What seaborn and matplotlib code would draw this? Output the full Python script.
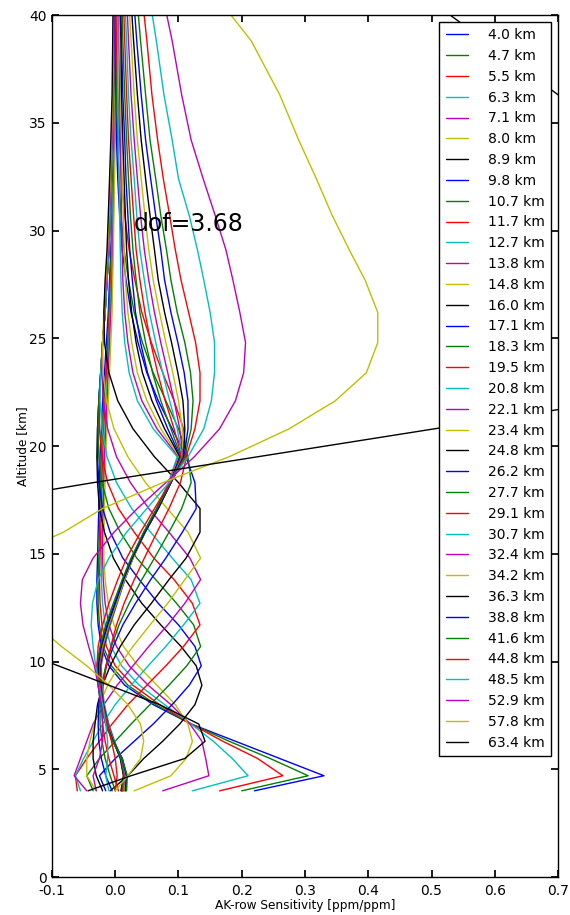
import numpy as np
import pandas as pd
import matplotlib
matplotlib.use("Agg")
import matplotlib.pyplot as plt
import seaborn as sns

# Retrieval altitude grid [km]
levels_km = [4.0, 4.7, 5.5, 6.3, 7.1, 8.0, 8.9, 9.8, 10.7, 11.7,
             12.7, 13.8, 14.8, 16.0, 17.1, 18.3, 19.5, 20.8, 22.1, 23.4,
             24.8, 26.2, 27.7, 29.1, 30.7, 32.4, 34.2, 36.3, 38.8, 41.6]

# Averaging-kernel rows (one per retrieval level), sampled on levels_km
ak_04_0 = [0.22, 0.33, 0.26, 0.19, 0.12, 0.06, 0.015, -0.01, -0.022, -0.027, -0.029, -0.029, -0.028, -0.027, -0.026,
           -0.025, -0.024, -0.022, -0.02, -0.017, -0.014, -0.011, -0.009, -0.007, -0.005, -0.004, -0.003, -0.002, -0.001, 0.0]
ak_04_7 = [0.20, 0.305, 0.245, 0.18, 0.12, 0.064, 0.02, -0.006, -0.019, -0.025, -0.027, -0.027, -0.026, -0.025, -0.024,
           -0.023, -0.022, -0.02, -0.018, -0.015, -0.012, -0.01, -0.008, -0.006, -0.005, -0.004, -0.003, -0.002, -0.001, 0.0]
ak_05_5 = [0.165, 0.265, 0.225, 0.17, 0.12, 0.07, 0.028, 0.0, -0.014, -0.021, -0.024, -0.025, -0.024, -0.023, -0.022,
           -0.021, -0.02, -0.018, -0.016, -0.014, -0.011, -0.009, -0.007, -0.005, -0.004, -0.003, -0.002, -0.001, 0.0, 0.0]
ak_06_3 = [0.122, 0.21, 0.185, 0.155, 0.12, 0.078, 0.038, 0.01, -0.007, -0.016, -0.02, -0.022, -0.022, -0.021, -0.02,
           -0.019, -0.018, -0.016, -0.014, -0.012, -0.01, -0.008, -0.006, -0.005, -0.004, -0.003, -0.002, -0.001, 0.0, 0.0]
ak_07_1 = [0.075, 0.148, 0.143, 0.137, 0.118, 0.088, 0.052, 0.022, 0.002, -0.01, -0.016, -0.019, -0.02, -0.02, -0.019,
           -0.018, -0.017, -0.015, -0.013, -0.011, -0.009, -0.007, -0.005, -0.004, -0.003, -0.002, -0.001, 0.0, 0.0, 0.0]
ak_08_0 = [0.03, 0.088, 0.112, 0.122, 0.115, 0.095, 0.066, 0.036, 0.013, -0.002, -0.011, -0.016, -0.018, -0.018, -0.017,
           -0.016, -0.015, -0.013, -0.011, -0.009, -0.007, -0.005, -0.004, -0.003, -0.002, -0.001, 0.0, 0.0, 0.0, 0.0]
ak_08_9 = [-0.008, 0.02, 0.045, 0.075, 0.102, 0.126, 0.137, 0.128, 0.104, 0.072, 0.042, 0.016, -0.003, -0.017, -0.025,
           -0.028, -0.029, -0.028, -0.026, -0.023, -0.02, -0.016, -0.013, -0.01, -0.008, -0.006, -0.004, -0.003, -0.002, -0.001]
ak_09_8 = [-0.015, -0.025, 0.0, 0.03, 0.06, 0.09, 0.117, 0.136, 0.126, 0.1, 0.068, 0.038, 0.012, -0.008, -0.02,
           -0.026, -0.028, -0.028, -0.026, -0.023, -0.02, -0.016, -0.013, -0.01, -0.008, -0.006, -0.004, -0.003, -0.002, -0.001]
ak_10_7 = [-0.035, -0.045, -0.025, 0.0, 0.025, 0.055, 0.085, 0.113, 0.135, 0.124, 0.097, 0.064, 0.034, 0.008, -0.01,
           -0.021, -0.026, -0.027, -0.026, -0.023, -0.02, -0.016, -0.013, -0.01, -0.008, -0.006, -0.004, -0.003, -0.002, -0.001]
ak_11_7 = [-0.06, -0.063, -0.045, -0.025, -0.005, 0.02, 0.05, 0.08, 0.108, 0.134, 0.122, 0.093, 0.061, 0.03, 0.005,
           -0.012, -0.021, -0.025, -0.025, -0.023, -0.02, -0.016, -0.013, -0.01, -0.008, -0.006, -0.004, -0.003, -0.002, -0.001]
ak_12_7 = [-0.055, -0.063, -0.05, -0.035, -0.02, 0.0, 0.025, 0.052, 0.08, 0.108, 0.134, 0.12, 0.09, 0.056, 0.026,
           0.002, -0.013, -0.021, -0.024, -0.023, -0.02, -0.016, -0.013, -0.01, -0.008, -0.006, -0.004, -0.003, -0.002, -0.001]
ak_13_8 = [-0.045, -0.065, -0.055, -0.045, -0.035, -0.018, 0.003, 0.028, 0.053, 0.083, 0.11, 0.135, 0.118, 0.085, 0.053,
           0.024, 0.002, -0.012, -0.019, -0.021, -0.02, -0.017, -0.014, -0.011, -0.009, -0.007, -0.005, -0.003, -0.002, -0.001]
ak_14_8 = [-0.03, -0.045, -0.045, -0.04, -0.033, -0.025, -0.012, 0.006, 0.028, 0.055, 0.083, 0.11, 0.135, 0.115, 0.082,
           0.048, 0.02, -0.002, -0.014, -0.019, -0.02, -0.018, -0.015, -0.012, -0.01, -0.008, -0.006, -0.004, -0.003, -0.002]
ak_16_0 = [-0.02, -0.03, -0.035, -0.035, -0.032, -0.028, -0.02, -0.008, 0.008, 0.03, 0.057, 0.085, 0.112, 0.134, 0.134,
           0.1, 0.062, 0.028, 0.004, -0.01, -0.017, -0.018, -0.016, -0.013, -0.011, -0.009, -0.007, -0.005, -0.004, -0.003]
ak_17_1 = [-0.005, -0.015, -0.022, -0.026, -0.027, -0.026, -0.022, -0.014, -0.003, 0.012, 0.032, 0.056, 0.08, 0.106, 0.128,
           0.126, 0.112, 0.09, 0.068, 0.05, 0.036, 0.025, 0.017, 0.011, 0.007, 0.004, 0.002, 0.001, 0.0, 0.0]
ak_18_3 = [0.0, -0.008, -0.016, -0.021, -0.024, -0.024, -0.021, -0.015, -0.006, 0.006, 0.022, 0.042, 0.062, 0.085, 0.105,
           0.12, 0.115, 0.1, 0.08, 0.06, 0.043, 0.03, 0.021, 0.014, 0.009, 0.006, 0.004, 0.002, 0.001, 0.0]
ak_19_5 = [0.005, -0.002, -0.01, -0.016, -0.02, -0.021, -0.019, -0.014, -0.007, 0.002, 0.014, 0.03, 0.046, 0.066, 0.085,
           0.103, 0.113, 0.108, 0.093, 0.075, 0.057, 0.042, 0.031, 0.022, 0.015, 0.01, 0.007, 0.004, 0.002, 0.001]
ak_20_8 = [0.012, 0.015, 0.01, -0.001, -0.01, -0.017, -0.021, -0.022, -0.017, -0.008, 0.002, 0.014, 0.026, 0.045, 0.065,
           0.084, 0.098, 0.06, 0.035, 0.022, 0.015, 0.011, 0.009, 0.008, 0.007, 0.006, 0.005, 0.004, 0.004, 0.003]
ak_22_1 = [0.011, 0.014, 0.009, -0.002, -0.011, -0.018, -0.022, -0.023, -0.017, -0.008, 0.003, 0.015, 0.027, 0.046, 0.066,
           0.085, 0.1, 0.066, 0.042, 0.028, 0.02, 0.015, 0.012, 0.011, 0.01, 0.009, 0.008, 0.007, 0.006, 0.005]
ak_23_4 = [0.01, 0.013, 0.008, -0.003, -0.012, -0.019, -0.023, -0.024, -0.018, -0.008, 0.003, 0.015, 0.027, 0.046, 0.066,
           0.086, 0.101, 0.072, 0.05, 0.035, 0.026, 0.02, 0.016, 0.014, 0.013, 0.011, 0.01, 0.009, 0.007, 0.006]
ak_24_8 = [0.009, 0.013, 0.008, -0.003, -0.012, -0.019, -0.023, -0.024, -0.018, -0.009, 0.002, 0.014, 0.027, 0.046, 0.066,
           0.087, 0.102, 0.078, 0.058, 0.043, 0.033, 0.026, 0.021, 0.018, 0.016, 0.014, 0.012, 0.01, 0.009, 0.007]
ak_26_2 = [0.01, 0.014, 0.009, -0.002, -0.012, -0.019, -0.024, -0.025, -0.019, -0.009, 0.002, 0.014, 0.027, 0.046, 0.067,
           0.087, 0.103, 0.083, 0.065, 0.051, 0.04, 0.032, 0.027, 0.023, 0.02, 0.017, 0.015, 0.012, 0.01, 0.008]
ak_27_7 = [0.011, 0.014, 0.009, -0.002, -0.012, -0.02, -0.024, -0.025, -0.019, -0.009, 0.002, 0.015, 0.028, 0.047, 0.067,
           0.088, 0.104, 0.088, 0.072, 0.059, 0.048, 0.039, 0.033, 0.028, 0.024, 0.021, 0.018, 0.015, 0.012, 0.01]
ak_29_1 = [0.012, 0.015, 0.01, -0.002, -0.012, -0.02, -0.024, -0.025, -0.019, -0.01, 0.002, 0.015, 0.028, 0.047, 0.068,
           0.088, 0.105, 0.093, 0.079, 0.067, 0.056, 0.047, 0.039, 0.033, 0.029, 0.025, 0.021, 0.018, 0.015, 0.012]
ak_30_7 = [0.013, 0.016, 0.01, -0.002, -0.013, -0.021, -0.025, -0.026, -0.02, -0.01, 0.002, 0.015, 0.028, 0.047, 0.068,
           0.088, 0.106, 0.098, 0.086, 0.075, 0.064, 0.054, 0.046, 0.039, 0.034, 0.03, 0.025, 0.021, 0.018, 0.014]
ak_32_4 = [0.014, 0.016, 0.01, -0.003, -0.013, -0.021, -0.025, -0.026, -0.021, -0.011, 0.001, 0.014, 0.028, 0.047, 0.068,
           0.088, 0.107, 0.102, 0.093, 0.083, 0.072, 0.062, 0.053, 0.046, 0.04, 0.035, 0.03, 0.025, 0.021, 0.017]
ak_34_2 = [0.015, 0.017, 0.011, -0.003, -0.014, -0.022, -0.026, -0.027, -0.021, -0.011, 0.001, 0.014, 0.028, 0.047, 0.068,
           0.088, 0.108, 0.106, 0.1, 0.091, 0.08, 0.07, 0.06, 0.053, 0.047, 0.041, 0.035, 0.03, 0.025, 0.02]
ak_36_3 = [0.016, 0.018, 0.011, -0.003, -0.014, -0.022, -0.026, -0.027, -0.022, -0.012, 0.0, 0.013, 0.027, 0.047, 0.068,
           0.088, 0.108, 0.11, 0.107, 0.099, 0.089, 0.078, 0.068, 0.062, 0.055, 0.048, 0.041, 0.035, 0.029, 0.023]
ak_38_8 = [0.017, 0.018, 0.011, -0.004, -0.015, -0.023, -0.027, -0.028, -0.023, -0.013, -0.001, 0.012, 0.026, 0.046, 0.067,
           0.088, 0.109, 0.115, 0.115, 0.109, 0.099, 0.088, 0.078, 0.072, 0.064, 0.056, 0.048, 0.041, 0.034, 0.027]
ak_41_6 = [0.018, 0.019, 0.011, -0.004, -0.015, -0.023, -0.027, -0.029, -0.024, -0.015, -0.003, 0.011, 0.025, 0.045, 0.066,
           0.087, 0.11, 0.12, 0.123, 0.119, 0.11, 0.098, 0.088, 0.081, 0.072, 0.064, 0.055, 0.048, 0.04, 0.032]
ak_44_8 = [0.0, 0.003, 0.0, -0.006, -0.013, -0.02, -0.026, -0.029, -0.027, -0.02, -0.01, 0.004, 0.018, 0.04, 0.062,
           0.087, 0.112, 0.126, 0.134, 0.134, 0.127, 0.116, 0.104, 0.095, 0.086, 0.076, 0.067, 0.058, 0.05, 0.04]
ak_48_5 = [-0.01, -0.015, -0.012, -0.012, -0.015, -0.02, -0.026, -0.031, -0.035, -0.038, -0.036, -0.027, -0.01, 0.018, 0.05,
           0.085, 0.115, 0.14, 0.152, 0.157, 0.157, 0.15, 0.14, 0.13, 0.117, 0.1, 0.09, 0.077, 0.065, 0.05]
ak_52_9 = [-0.03, -0.035, -0.025, -0.02, -0.02, -0.022, -0.027, -0.033, -0.042, -0.051, -0.055, -0.052, -0.035, -0.002, 0.035,
           0.08, 0.125, 0.165, 0.19, 0.203, 0.206, 0.197, 0.186, 0.175, 0.158, 0.139, 0.12, 0.105, 0.09, 0.07]
ak_57_8 = [0.0, 0.02, 0.04, 0.045, 0.04, 0.02, -0.01, -0.045, -0.085, -0.125, -0.165, -0.19, -0.175, -0.082, -0.02,
           0.075, 0.18, 0.275, 0.348, 0.397, 0.415, 0.415, 0.395, 0.37, 0.343, 0.318, 0.29, 0.26, 0.215, 0.14]
ak_63_4 = [-0.043, 0.025, 0.11, 0.142, 0.132, 0.07, -0.01, -0.09, -0.17, -0.24, -0.29, -0.32, -0.33, -0.32, -0.28,
           -0.035, 0.225, 0.505, 0.79, 1.0, 1.1, 1.12, 1.08, 1.0, 0.93, 0.86, 0.78, 0.70, 0.585, 0.455]

row_labels = ["4.0 km", "4.7 km", "5.5 km", "6.3 km", "7.1 km", "8.0 km", "8.9 km",
              "9.8 km", "10.7 km", "11.7 km", "12.7 km", "13.8 km", "14.8 km", "16.0 km",
              "17.1 km", "18.3 km", "19.5 km", "20.8 km", "22.1 km", "23.4 km", "24.8 km",
              "26.2 km", "27.7 km", "29.1 km", "30.7 km", "32.4 km", "34.2 km", "36.3 km",
              "38.8 km", "41.6 km", "44.8 km", "48.5 km", "52.9 km", "57.8 km", "63.4 km"]

ak_rows = [ak_04_0, ak_04_7, ak_05_5, ak_06_3, ak_07_1, ak_08_0, ak_08_9,
           ak_09_8, ak_10_7, ak_11_7, ak_12_7, ak_13_8, ak_14_8, ak_16_0,
           ak_17_1, ak_18_3, ak_19_5, ak_20_8, ak_22_1, ak_23_4, ak_24_8,
           ak_26_2, ak_27_7, ak_29_1, ak_30_7, ak_32_4, ak_34_2, ak_36_3,
           ak_38_8, ak_41_6, ak_44_8, ak_48_5, ak_52_9, ak_57_8, ak_63_4]

dof_text = "dof=3.68"

# Long-form table for seaborn
records = []
for label, row in zip(row_labels, ak_rows):
    for z, v in zip(levels_km, row):
        records.append({"row": label, "sens": v, "alt": z})
df = pd.DataFrame(records)

sns.set_theme(style="ticks", color_codes=False, rc={
    "axes.edgecolor": "black",
    "axes.linewidth": 1.0,
    "xtick.direction": "in",
    "ytick.direction": "in",
    "xtick.top": True,
    "ytick.right": True,
    "xtick.major.size": 5,
    "ytick.major.size": 5,
    "xtick.color": "black",
    "ytick.color": "black",
    "text.color": "black",
    "axes.labelcolor": "black",
})
plt.rcParams["font.family"] = ["DejaVu Sans"]

# Classic seven-colour line cycle (b, g, r, c, m, y, k)
cycle = [(0.0, 0.0, 1.0), (0.0, 0.5, 0.0), (1.0, 0.0, 0.0), (0.0, 0.75, 0.75),
         (0.75, 0.0, 0.75), (0.75, 0.75, 0.0), (0.0, 0.0, 0.0)]
palette = [cycle[i % len(cycle)] for i in range(len(row_labels))]

fig = plt.figure(figsize=(5.7, 9.15), dpi=100)
ax = fig.add_axes([0.0912, 0.0415, 0.8878, 0.9421])

sns.lineplot(data=df, x="sens", y="alt", hue="row", hue_order=row_labels,
             palette=palette, sort=False, estimator=None, linewidth=1.0,
             ax=ax, legend=True)

ax.set_xlim(-0.1, 0.7)
ax.set_ylim(0, 40)
ax.set_xticks(np.arange(-0.1, 0.71, 0.1))
ax.set_yticks(np.arange(0, 41, 5))
ax.xaxis.set_major_formatter(matplotlib.ticker.FormatStrFormatter("%.1f"))
ax.tick_params(labelsize=10)
ax.tick_params(axis="x", pad=5)
ax.tick_params(axis="y", pad=4)
ax.set_xlabel("AK-row Sensitivity [ppm/ppm]", fontsize=8.7, labelpad=1)
ax.set_ylabel("Altitude [km]", fontsize=8.7, labelpad=0)

ax.text(0.03, 30.0, dof_text, fontsize=17, ha="left", va="baseline")

handles, labels = ax.get_legend_handles_labels()
leg = ax.legend(handles, labels, loc="upper right", fontsize=10,
                frameon=True, fancybox=False, framealpha=1.0,
                edgecolor="black", borderaxespad=0.5, borderpad=0.45,
                labelspacing=0.49, handlelength=1.6, handletextpad=1.45)
leg.get_frame().set_linewidth(1.0)

fig.savefig("out.png", dpi=100, facecolor="white")
